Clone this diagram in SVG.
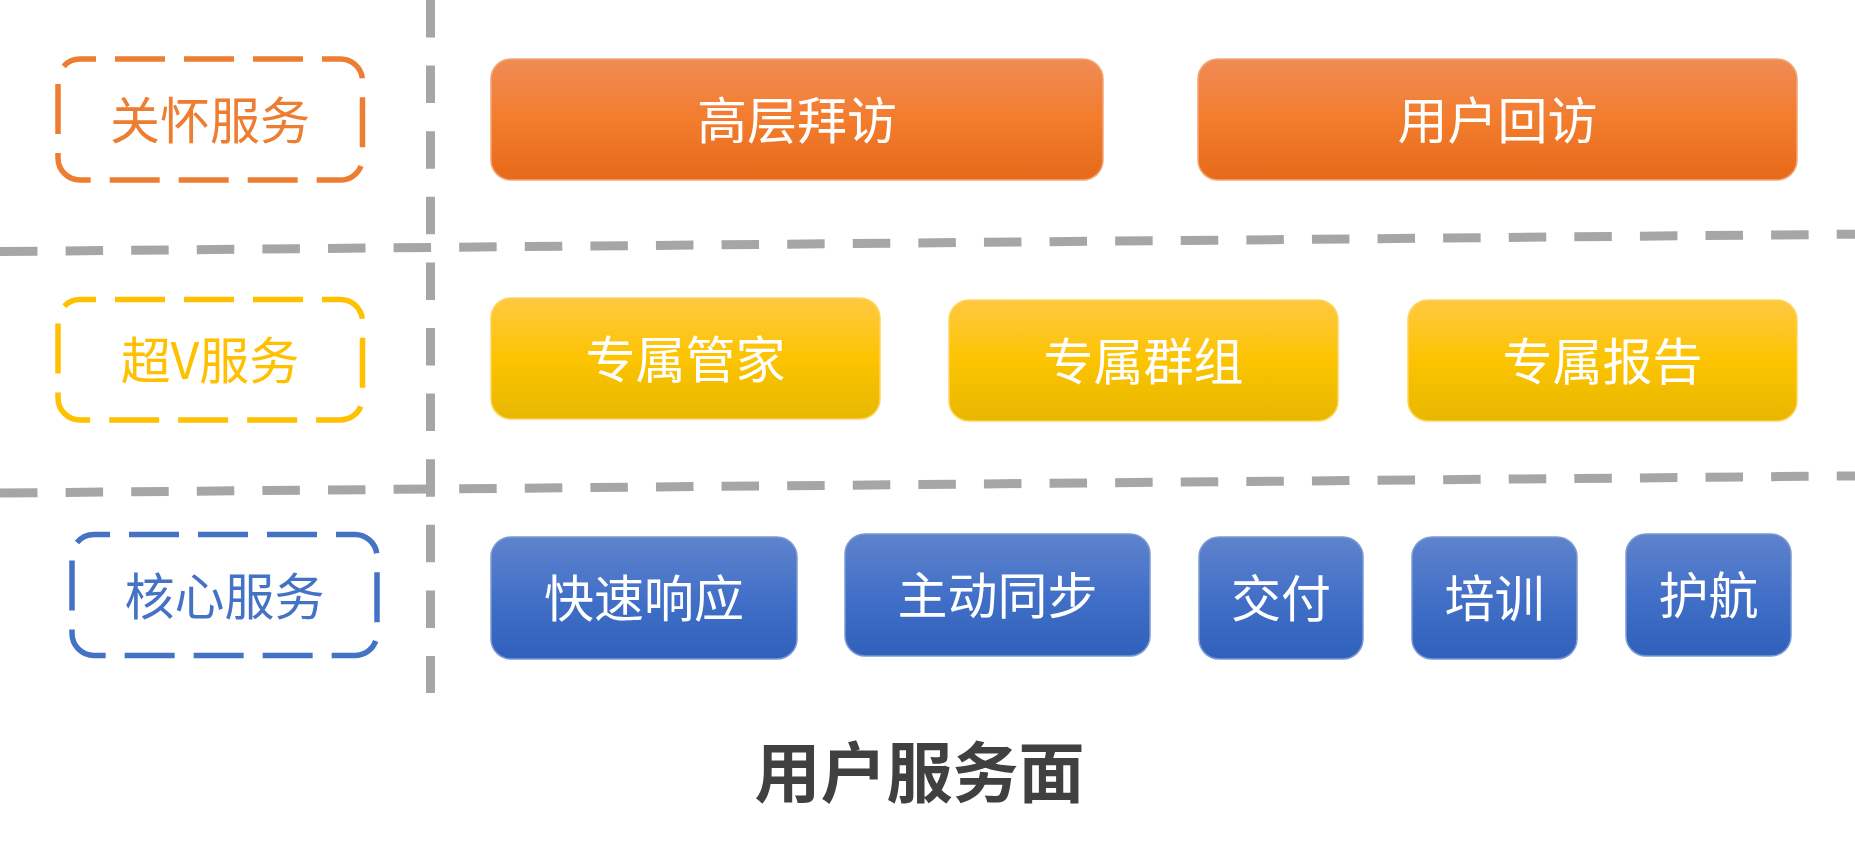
<svg xmlns="http://www.w3.org/2000/svg" width="1855" height="853" viewBox="0 0 1855 853">
  <defs>
    <linearGradient id="gOrange" x1="0" y1="0" x2="0" y2="1">
      <stop offset="0" stop-color="#F08B55"/>
      <stop offset="0.5" stop-color="#F37C2D"/>
      <stop offset="1" stop-color="#E56A1A"/>
    </linearGradient>
    <linearGradient id="gYellow" x1="0" y1="0" x2="0" y2="1">
      <stop offset="0" stop-color="#FFC842"/>
      <stop offset="0.5" stop-color="#FCC400"/>
      <stop offset="1" stop-color="#E7B700"/>
    </linearGradient>
    <linearGradient id="gBlue" x1="0" y1="0" x2="0" y2="1">
      <stop offset="0" stop-color="#5F83CC"/>
      <stop offset="0.5" stop-color="#4270C8"/>
      <stop offset="1" stop-color="#2F60BB"/>
    </linearGradient>
    <style>
      .sep { stroke:#A6A6A6; stroke-width:9; stroke-dasharray:37.5 28.1; fill:none; }
      .lbl { fill:none; stroke-width:5.5; stroke-dasharray:50 19; stroke-dashoffset:34; }
      .ltxt { font-family:"Noto Sans CJK SC","Noto Sans",sans-serif; font-size:50px; text-anchor:middle; }
      .btxt { font-family:"Noto Sans CJK SC","Noto Sans",sans-serif; font-size:50px; text-anchor:middle; fill:#FFFFFF; }
      .bo { fill:url(#gOrange); stroke:#F3A575; stroke-width:1.5; }
      .by { fill:url(#gYellow); stroke:#FFD45C; stroke-width:1.5; }
      .bb { fill:url(#gBlue); stroke:#7C99D4; stroke-width:1.5; }
      .title { font-family:"Noto Sans CJK SC","Noto Sans",sans-serif; font-size:66px; font-weight:bold; fill:#404040; text-anchor:middle; }
    </style>
  </defs>

  <g id="connectors">
    <line class="sep" x1="430.5" y1="0" x2="430.5" y2="693"/>
    <line class="sep" x1="0" y1="251.5" x2="1855" y2="234.2"/>
    <line class="sep" x1="0" y1="493" x2="1855" y2="475.9"/>
  </g>

  <g id="label-care">
    <rect class="lbl" x="58" y="59" width="304.5" height="121" rx="22" ry="22" stroke="#ED7D31"/>
    <text class="ltxt" x="210" y="138.5" fill="#ED7D31">关怀服务</text>
  </g>
  <g id="label-superv">
    <rect class="lbl" x="58" y="299.5" width="304.5" height="120.5" rx="22" ry="22" stroke="#FFC000"/>
    <text class="ltxt" x="210" y="379" fill="#FFC000">超V服务</text>
  </g>
  <g id="label-core">
    <rect class="lbl" x="72" y="534.5" width="305" height="121" rx="22" ry="22" stroke="#4472C4"/>
    <text class="ltxt" x="224.5" y="614.5" fill="#4472C4">核心服务</text>
  </g>

  <g id="node-gaoceng">
    <rect class="bo" x="491" y="59" width="612" height="121" rx="20" ry="20"/>
    <text class="btxt" x="797" y="138.5">高层拜访</text>
  </g>
  <g id="node-yonghuhuifang">
    <rect class="bo" x="1198" y="59" width="599" height="121" rx="20" ry="20"/>
    <text class="btxt" x="1497.5" y="138.5">用户回访</text>
  </g>

  <g id="node-guanjia">
    <rect class="by" x="491" y="298" width="389" height="121" rx="20" ry="20"/>
    <text class="btxt" x="685.5" y="377.5">专属管家</text>
  </g>
  <g id="node-qunzu">
    <rect class="by" x="949" y="300" width="389" height="121" rx="20" ry="20"/>
    <text class="btxt" x="1143.5" y="379.5">专属群组</text>
  </g>
  <g id="node-baogao">
    <rect class="by" x="1408" y="300" width="389" height="121" rx="20" ry="20"/>
    <text class="btxt" x="1602.5" y="379.5">专属报告</text>
  </g>

  <g id="node-kuaisu">
    <rect class="bb" x="491" y="537" width="306" height="122" rx="20" ry="20"/>
    <text class="btxt" x="644" y="617">快速响应</text>
  </g>
  <g id="node-zhudong">
    <rect class="bb" x="845" y="534" width="305" height="122" rx="20" ry="20"/>
    <text class="btxt" x="997.5" y="614">主动同步</text>
  </g>
  <g id="node-jiaofu">
    <rect class="bb" x="1199" y="537" width="164" height="122" rx="20" ry="20"/>
    <text class="btxt" x="1281" y="617">交付</text>
  </g>
  <g id="node-peixun">
    <rect class="bb" x="1412" y="537" width="165" height="122" rx="20" ry="20"/>
    <text class="btxt" x="1494.5" y="617">培训</text>
  </g>
  <g id="node-huhang">
    <rect class="bb" x="1626" y="534" width="165" height="122" rx="20" ry="20"/>
    <text class="btxt" x="1708.5" y="614">护航</text>
  </g>

  <g id="title">
    <text class="title" x="919.5" y="797">用户服务面</text>
  </g>
</svg>
